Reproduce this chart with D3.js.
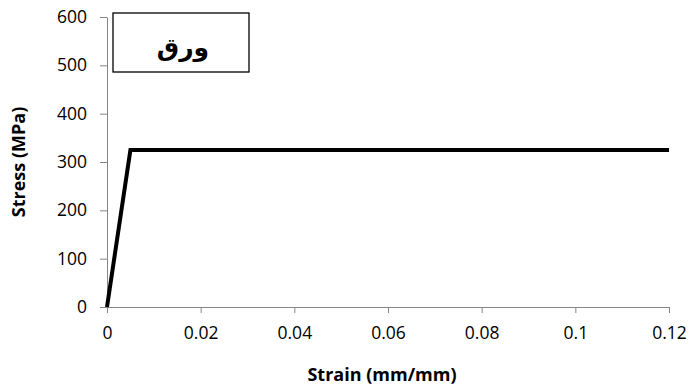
<!DOCTYPE html>
<html>
<head>
<meta charset="utf-8">
<script src="https://cdn.jsdelivr.net/npm/d3@7"></script>
<style>
  body { margin: 0; background: #fff; }
  text { font-family: "Open Sans", "Liberation Sans", sans-serif; }
</style>
</head>
<body>
<svg id="chart" width="691" height="390"></svg>
<script>
// strain / stress points
var strain = [0, 0.005, 0.12];
var stress = [0, 325, 325];
var xTicks = [0, 0.02, 0.04, 0.06, 0.08, 0.1, 0.12];
var yTicks = [0, 100, 200, 300, 400, 500, 600];
var label = "ورق";

var svg = d3.select("#chart");

var x = d3.scaleLinear().domain([0, 0.12]).range([107, 669]);
var y = d3.scaleLinear().domain([0, 600]).range([307, 17]);

var xAxis = svg.append("g")
    .attr("transform", "translate(0,307)")
    .call(d3.axisBottom(x).tickValues(xTicks).tickSize(6).tickSizeOuter(0)
        .tickFormat(function(d){ return d3.format("")(+d.toFixed(2)); }));
xAxis.selectAll("text").attr("y", 32).attr("dy", "0");

var yAxis = svg.append("g")
    .attr("transform", "translate(107,0)")
    .call(d3.axisLeft(y).tickValues(yTicks).tickSize(7).tickSizeOuter(0));
yAxis.selectAll("text").attr("x", -20);

svg.selectAll(".domain, .tick line").attr("stroke", "#868686");
svg.selectAll(".tick text")
    .attr("fill", "#000")
    .style("font-size", "17.5px")
    .style("font-family", "Open Sans, Liberation Sans, sans-serif");

var line = d3.line()
    .x(function(d, i){ return x(strain[i]); })
    .y(function(d, i){ return y(stress[i]); });

svg.append("path")
    .datum(stress)
    .attr("d", line)
    .attr("fill", "none")
    .attr("stroke", "#000")
    .attr("stroke-width", 4)
    .attr("stroke-linejoin", "miter");

// label box
svg.append("rect")
    .attr("x", 113).attr("y", 13)
    .attr("width", 136).attr("height", 59)
    .attr("fill", "#fff").attr("stroke", "#000").attr("stroke-width", 1.3);
svg.append("text")
    .attr("x", 183).attr("y", 56)
    .attr("text-anchor", "middle")
    .style("font-size", "25px").attr("font-weight", "bold")
    .style("font-family", "DejaVu Sans, sans-serif")
    .text(label);

svg.append("text")
    .attr("x", 382).attr("y", 381)
    .attr("text-anchor", "middle")
    .style("font-size", "18px").attr("font-weight", "bold")
    .text("Strain (mm/mm)");

svg.append("text")
    .attr("transform", "translate(25,162) rotate(-90)")
    .attr("text-anchor", "middle")
    .style("font-size", "18px").attr("font-weight", "bold")
    .text("Stress (MPa)");
</script>
</body>
</html>
